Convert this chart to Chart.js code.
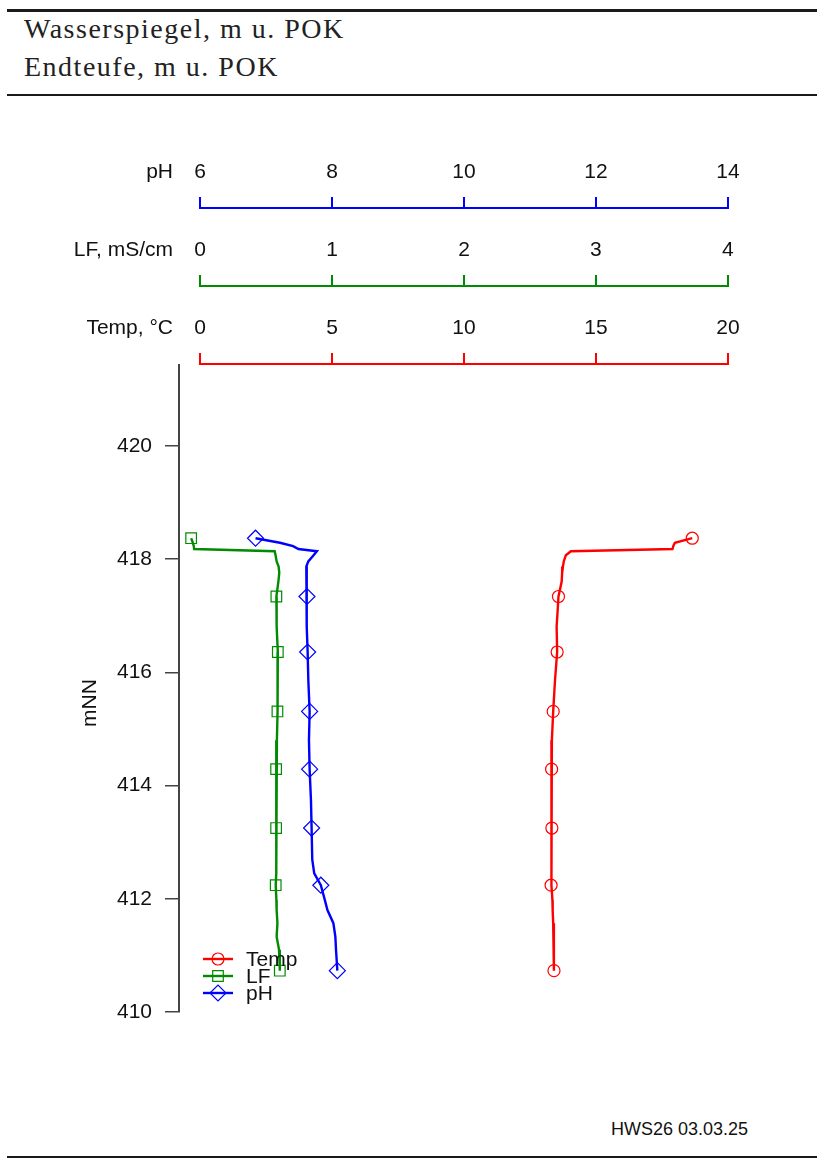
<!DOCTYPE html>
<html>
<head>
<meta charset="utf-8">
<script src="https://cdn.jsdelivr.net/npm/chart.js@4.4.0/dist/chart.umd.min.js"></script>
<style>
  body { margin:0; width:817px; height:1158px; position:relative; background:#fff; overflow:hidden; }
  .rule { position:absolute; left:7px; width:810px; background:#1a1a1a; }
  .head { position:absolute; left:24px; font-family:"Liberation Serif", serif; font-size:28px; letter-spacing:1.5px; line-height:38px; color:#222; white-space:nowrap; }
  #wrap { position:absolute; left:0; top:100px; width:817px; height:1000px; }
  .foot { position:absolute; right:69px; top:1119px; font-family:"Liberation Sans", Arial, sans-serif; font-size:18px; color:#111; }
</style>
</head>
<body>
<div class="rule" style="top:9px;height:3px"></div>
<div class="head" style="top:10px">Wasserspiegel, m u. POK</div>
<div class="head" style="top:48px">Endteufe, m u. POK</div>
<div class="rule" style="top:94px;height:2px"></div>
<div id="wrap"><canvas id="myChart"></canvas></div>
<div class="foot">HWS26 03.03.25</div>
<div class="rule" style="top:1156px;height:2px"></div>
<script>
// depth in m above sea level (mNN)
var depth = [418.37, 418.29, 418.23, 418.18, 418.14, 418.07, 417.96, 417.87, 417.76, 417.60,
             417.34, 417.10, 416.81, 416.36, 415.87, 415.31, 414.80, 414.29, 413.75, 413.25,
             412.69, 412.45, 412.24, 411.98, 411.80, 411.57, 411.33, 411.10, 410.73]
var temp = [18.65, 17.99, 17.93, 17.90, 14.05, 13.86, 13.78, 13.75, 13.72, 13.70,
            13.58, 13.55, 13.51, 13.53, 13.45, 13.38, 13.33, 13.32, 13.32, 13.33,
            13.31, 13.30, 13.30, 13.35, 13.36, 13.38, 13.40, 13.41, 13.41]
var lf = [-0.068, -0.055, -0.048, -0.045, 0.565, 0.572, 0.58, 0.595, 0.60, 0.593,
          0.578, 0.58, 0.58, 0.589, 0.588, 0.586, 0.582, 0.576, 0.576, 0.576,
          0.58, 0.578, 0.573, 0.578, 0.58, 0.586, 0.58, 0.598, 0.604]
var ph = [6.84, 7.21, 7.41, 7.49, 7.77, 7.72, 7.64, 7.61, 7.61, 7.61,
          7.62, 7.62, 7.62, 7.63, 7.64, 7.66, 7.65, 7.66, 7.68, 7.69,
          7.70, 7.73, 7.83, 7.89, 7.93, 8.02, 8.05, 8.06, 8.08]
var markerIdx = [0, 10, 13, 15, 17, 19, 22, 28]

var yTicks = [410, 412, 414, 416, 418, 420]
var tempTicks = [0, 5, 10, 15, 20]
var lfTicks = [0, 1, 2, 3, 4]
var phTicks = [6, 8, 10, 12, 14]

var sans = '"Liberation Sans", Arial, sans-serif'
var RED = '#ff0000', GREEN = '#008b00', BLUE = '#0000ff'

function pts(vals) {
  return vals.map((v, i) => ({x: v, y: depth[i]}))
}

function series(label, vals, color, axis, style, r) {
  return {
    label: label, data: pts(vals), xAxisID: axis, yAxisID: 'y',
    showLine: true, borderColor: color, borderWidth: 2.4, fill: false,
    pointStyle: style, pointBorderColor: color, pointBackgroundColor: 'rgba(0,0,0,0)',
    pointBorderWidth: 1.2,
    pointRadius: ctx => markerIdx.includes(ctx.dataIndex) ? r : 0
  }
}

// R-style top axis: 4% extension, line only between first and last tick
function topAxis(ticks, color, weight, title) {
  var span = ticks[ticks.length - 1] - ticks[0]
  return {
    type: 'linear', position: 'top', weight: weight,
    min: ticks[0] - span * 0.04, max: ticks[ticks.length - 1] + span * 0.04,
    afterBuildTicks: s => { s.ticks = ticks.map(v => ({value: v})) },
    afterFit: s => { s.height = 78 },
    border: {display: false},
    grid: {drawOnChartArea: false, drawTicks: true, tickLength: 12, color: color, lineWidth: 2},
    ticks: {font: {family: sans, size: 21}, color: '#111', padding: 12, maxRotation: 0, autoSkip: false},
    _title: title, _color: color, _ticks: ticks
  }
}

var axisPlugin = {
  id: 'axisPlugin',
  afterDraw(chart) {
    var c = chart.ctx
    c.save()
    ;['xPH', 'xLF', 'xTemp'].forEach(id => {
      var s = chart.scales[id], o = s.options
      var y = s.bottom - 1
      c.strokeStyle = o._color
      c.lineWidth = 2
      c.beginPath()
      c.moveTo(s.getPixelForValue(o._ticks[0]) - 1, y)
      c.lineTo(s.getPixelForValue(o._ticks[o._ticks.length - 1]) + 1, y)
      c.stroke()
      c.fillStyle = '#111'
      c.font = '21px ' + sans
      c.textAlign = 'right'
      c.textBaseline = 'middle'
      c.fillText(o._title, chart.chartArea.left - 6, s.bottom - 12 - 12 - 12.6)
    })
    // y axis title
    c.save()
    c.translate(90, 603)
    c.rotate(-Math.PI / 2)
    c.textAlign = 'center'
    c.textBaseline = 'middle'
    c.fillText('mNN', 0, 0)
    c.restore()
    // legend, bottom left inside plot
    var items = [['Temp', RED, 'circle', 6], ['LF', GREEN, 'rect', 7.5], ['pH', BLUE, 'rectRot', 8]]
    items.forEach((it, i) => {
      var y = 859 + i * 17
      c.strokeStyle = it[1]
      c.lineWidth = 2.4
      c.beginPath()
      c.moveTo(203, y)
      c.lineTo(233, y)
      c.stroke()
      c.lineWidth = 1.2
      c.fillStyle = 'rgba(0,0,0,0)'
      Chart.helpers.drawPoint(c, {pointStyle: it[2], radius: it[3], borderWidth: 1.2}, 218, y)
      c.fillStyle = '#111'
      c.font = '21px ' + sans
      c.textAlign = 'left'
      c.textBaseline = 'middle'
      c.fillText(it[0], 246, y + 1)
    })
    c.restore()
  }
}

var ctx = document.getElementById('myChart').getContext('2d')
var chart = new Chart(ctx, {
  type: 'scatter',
  data: {
    datasets: [
      series('Temp', temp, RED, 'xTemp', 'circle', 6),
      series('LF', lf, GREEN, 'xLF', 'rect', 7.5),
      series('pH', ph, BLUE, 'xPH', 'rectRot', 8)
    ]
  },
  options: {
    responsive: true, maintainAspectRatio: false, animation: false,
    layout: {padding: {top: 31, left: 0, right: 68, bottom: 88}},
    plugins: {legend: {display: false}, tooltip: {enabled: false}},
    scales: {
      y: {
        type: 'linear', position: 'left', min: 410, max: 421.43,
        afterBuildTicks: s => { s.ticks = yTicks.map(v => ({value: v})) },
        afterFit: s => { s.width = 179 },
        border: {display: true, color: '#444', width: 2},
        grid: {drawOnChartArea: false, drawTicks: true, tickLength: 14, color: '#444', lineWidth: 1.5},
        ticks: {font: {family: sans, size: 21}, color: '#111', padding: 13}
      },
      xPH: topAxis(phTicks, BLUE, 3, 'pH'),
      xLF: topAxis(lfTicks, GREEN, 2, 'LF, mS/cm'),
      xTemp: topAxis(tempTicks, RED, 1, 'Temp, °C')
    }
  },
  plugins: [axisPlugin]
})
</script>
</body>
</html>
